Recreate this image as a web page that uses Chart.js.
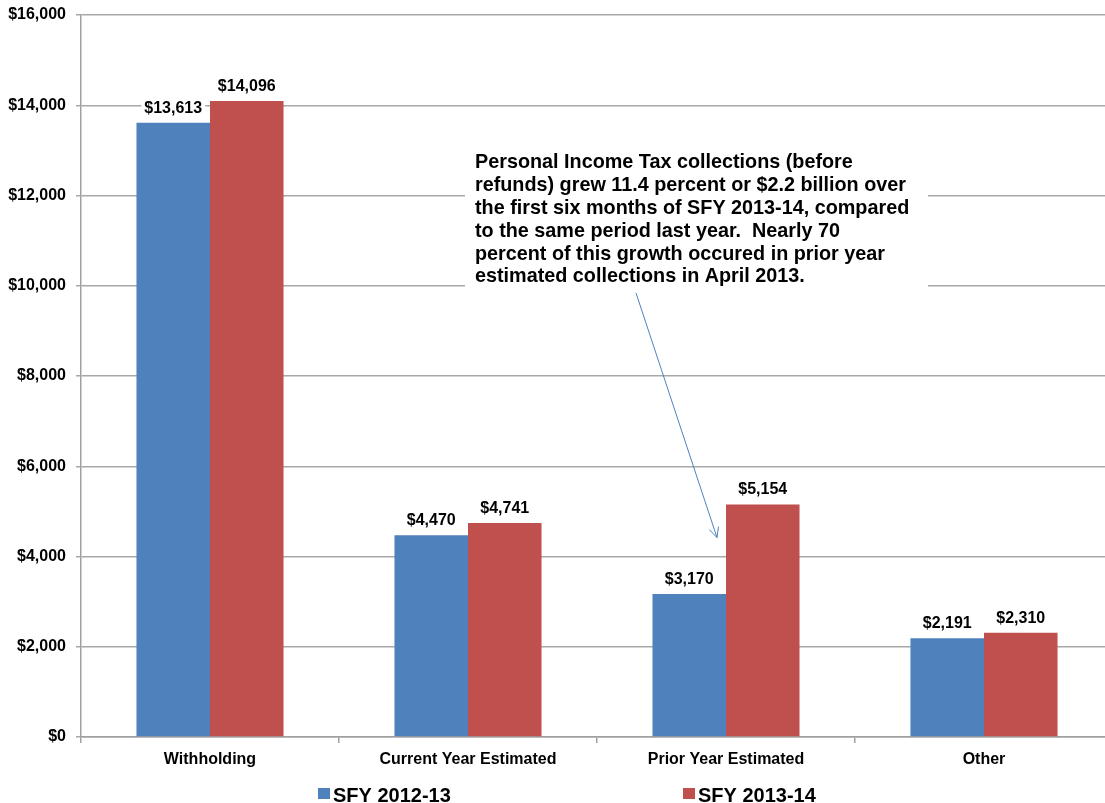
<!DOCTYPE html>
<html>
<head>
<meta charset="utf-8">
<script src="https://cdn.jsdelivr.net/npm/chart.js@4/dist/chart.umd.min.js"></script>
<style>
  html, body { margin: 0; padding: 0; background: #fff; overflow: hidden; }
  #wrap { width: 1113px; height: 803px; position: relative; }
</style>
</head>
<body>
<div id="wrap"><canvas id="c" width="1113" height="803"></canvas></div>
<script>
const categories = ['Withholding', 'Current Year Estimated', 'Prior Year Estimated', 'Other'];
const seriesNames = ['SFY 2012-13', 'SFY 2013-14'];
const sfy2012_13 = [13613, 4470, 3170, 2191];
const sfy2013_14 = [14096, 4741, 5154, 2310];
const yTicks = [0, 2000, 4000, 6000, 8000, 10000, 12000, 14000, 16000];
const annotationLines = [
  'Personal Income Tax collections (before',
  'refunds) grew 11.4 percent or $2.2 billion over',
  'the first six months of SFY 2013-14, compared',
  'to the same period last year.  Nearly 70',
  'percent of this growth occured in prior year',
  'estimated collections in April 2013.'
];

const BLUE = '#4F81BD';
const RED = '#C0504D';
const FONT = 'Arial, "Liberation Sans", sans-serif';
const fmt = v => '$' + v.toLocaleString('en-US');

const dataLabels = {
  id: 'dataLabels',
  afterDatasetsDraw(chart) {
    const ctx = chart.ctx;
    ctx.save();
    ctx.font = 'bold 16px ' + FONT;
    ctx.textAlign = 'center';
    ctx.textBaseline = 'alphabetic';
    chart.data.datasets.forEach((ds, di) => {
      const meta = chart.getDatasetMeta(di);
      meta.data.forEach((bar, i) => {
        const t = fmt(ds.data[i]);
        const w = ctx.measureText(t).width;
        const by = bar.y - 10;
        ctx.fillStyle = '#fff';
        ctx.fillRect(bar.x - w / 2 - 3, by - 15, w + 6, 19);
        ctx.fillStyle = '#000';
        ctx.fillText(t, bar.x, by);
      });
    });
    ctx.restore();
  }
};

const annotation = {
  id: 'annotation',
  afterDraw(chart) {
    const ctx = chart.ctx;
    const xs = chart.scales.x, ys = chart.scales.y;
    const cx = xs.getPixelForValue(2);
    ctx.save();
    const boxL = cx - 261, boxR = cx + 202;
    const boxT = ys.getPixelForValue(13000), boxB = ys.getPixelForValue(9870);
    ctx.fillStyle = '#fff';
    ctx.fillRect(boxL, boxT, boxR - boxL, boxB - boxT);
    ctx.fillStyle = '#000';
    ctx.font = 'bold 19.8px ' + FONT;
    ctx.textAlign = 'left';
    ctx.textBaseline = 'alphabetic';
    const tx = boxL + 10;
    const ty0 = boxT + 18;
    annotationLines.forEach((l, i) => ctx.fillText(l, tx, ty0 + i * 22.8));
    const x1 = cx - 90, y1 = ys.getPixelForValue(9840);
    const x2 = cx - 9, y2 = ys.getPixelForValue(4420);
    ctx.strokeStyle = BLUE;
    ctx.lineWidth = 1;
    ctx.beginPath();
    ctx.moveTo(x1, y1);
    ctx.lineTo(x2, y2);
    const ang = Math.atan2(y2 - y1, x2 - x1);
    const ah = 11, spread = 0.45;
    ctx.moveTo(x2 - ah * Math.cos(ang - spread), y2 - ah * Math.sin(ang - spread));
    ctx.lineTo(x2, y2);
    ctx.lineTo(x2 - ah * Math.cos(ang + spread), y2 - ah * Math.sin(ang + spread));
    ctx.stroke();
    ctx.restore();
  }
};

const customLegend = {
  id: 'customLegend',
  afterDraw(chart) {
    const ctx = chart.ctx;
    const xPos = [318, 683];
    ctx.save();
    ctx.font = 'bold 20px ' + FONT;
    ctx.textAlign = 'left';
    ctx.textBaseline = 'alphabetic';
    chart.data.datasets.forEach((ds, i) => {
      ctx.fillStyle = ds.backgroundColor;
      ctx.fillRect(xPos[i], 788, 12, 11);
      ctx.fillStyle = '#000';
      ctx.fillText(ds.label, xPos[i] + 15, 802);
    });
    ctx.restore();
  }
};

new Chart(document.getElementById('c'), {
  type: 'bar',
  data: {
    labels: categories,
    datasets: [
      { label: seriesNames[0], data: sfy2012_13, backgroundColor: BLUE, borderWidth: 0 },
      { label: seriesNames[1], data: sfy2013_14, backgroundColor: RED, borderWidth: 0 }
    ]
  },
  options: {
    responsive: false,
    animation: false,
    devicePixelRatio: 1,
    layout: { padding: { top: 15, bottom: 26, left: 0, right: 0 } },
    datasets: { bar: { categoryPercentage: 0.57, barPercentage: 1 } },
    plugins: { legend: { display: false }, tooltip: { enabled: false } },
    scales: {
      x: {
        grid: { drawOnChartArea: false, drawTicks: true, tickLength: 6, color: '#a0a0a0', lineWidth: 1.5, offset: true },
        border: { color: '#a0a0a0', width: 1.5 },
        ticks: { color: '#000', font: { family: FONT, size: 16, weight: 'bold' }, padding: 7, maxRotation: 0 },
        afterFit(s) { s.height = 40; s.paddingLeft = 0; s.paddingRight = 0; }
      },
      y: {
        min: 0, max: 16000,
        afterBuildTicks(s) { s.ticks = yTicks.map(v => ({ value: v })); },
        grid: { color: '#a8a8a8', lineWidth: 1.5, tickLength: 5 },
        border: { color: '#a0a0a0', width: 1.5 },
        ticks: { color: '#000', font: { family: FONT, size: 16, weight: 'bold' }, padding: 10, callback: v => fmt(v) },
        afterFit(s) { s.width = 81; s.paddingTop = 0; s.paddingBottom = 0; }
      }
    }
  },
  plugins: [dataLabels, annotation, customLegend]
});
</script>
</body>
</html>
